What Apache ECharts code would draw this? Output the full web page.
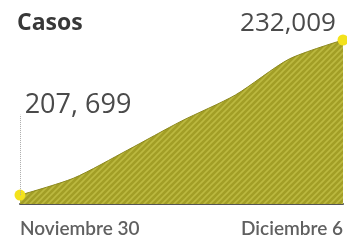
<!DOCTYPE html>
<html>
<head>
<meta charset="utf-8">
<script src="https://cdn.jsdelivr.net/npm/echarts@6/dist/echarts.min.js"></script>
<style>
  html, body { margin: 0; padding: 0; background: #fff; }
  #chart { width: 347px; height: 244px; }
</style>
</head>
<body>
<div id="chart"></div>
<script>
var dias = ['Noviembre 30', 'Diciembre 1', 'Diciembre 2', 'Diciembre 3', 'Diciembre 4', 'Diciembre 5', 'Diciembre 6'];
var casos = [207699, 210365, 214756, 219303, 223383, 229024, 232009];
var etiquetas = ['207, 699', '', '', '', '', '', '232,009'];

// patron de rayas diagonales para el area
function rayas() {
    var c = document.createElement('canvas');
    c.width = 6;
    c.height = 6;
    var ctx = c.getContext('2d');
    ctx.fillStyle = '#a29e26';
    ctx.fillRect(0, 0, 6, 6);
    ctx.strokeStyle = '#bcb940';
    ctx.lineWidth = 1.6;
    ctx.beginPath();
    ctx.moveTo(-1, 7); ctx.lineTo(7, -1);
    ctx.moveTo(-4, 4); ctx.lineTo(4, -4);
    ctx.moveTo(2, 10); ctx.lineTo(10, 2);
    ctx.stroke();
    return c;
}

var chart = echarts.init(document.getElementById('chart'));

var datos = casos.map(function (v, i) {
    var item = { value: v };
    if (i === 0 || i === casos.length - 1) {
        item.symbol = 'circle';
        item.symbolSize = 11;
        item.itemStyle = { color: '#f3e21c', borderWidth: 0 };
    } else {
        item.symbol = 'none';
    }
    if (etiquetas[i]) {
        item.label = {
            show: true,
            formatter: etiquetas[i],
            fontFamily: 'Open Sans',
            fontSize: i === 0 ? 27 : 26,
            color: '#4a4a4a',
            position: 'top',
            offset: i === 0 ? [58, -66] : [-55, 7]
        };
    }
    return item;
});

chart.setOption({
    animation: false,
    title: {
        text: 'Casos',
        left: 12,
        top: 7,
        textStyle: { fontFamily: 'Open Sans', fontWeight: 'bold', fontSize: 23, color: '#383838' }
    },
    grid: { left: 20, right: 4, top: 40, bottom: 40 },
    xAxis: {
        type: 'category',
        data: dias,
        boundaryGap: false,
        axisLine: { lineStyle: { color: '#555', width: 2 } },
        axisTick: { show: false },
        axisLabel: {
            interval: function (i) { return i === 0 || i === dias.length - 1; },
            alignMinLabel: 'left',
            alignMaxLabel: 'right',
            margin: 15,
            fontFamily: 'Lato',
            fontWeight: 600,
            fontSize: 19,
            color: '#606060'
        }
    },
    yAxis: {
        type: 'value',
        min: 206300,
        max: 232009,
        show: false,
        splitLine: { show: false }
    },
    series: [{
        type: 'line',
        data: datos,
        smooth: 0.25,
        lineStyle: { color: '#8c8820', width: 1 },
        areaStyle: { color: { image: rayas(), repeat: 'repeat' }, opacity: 1 },
        markLine: {
            silent: true,
            symbol: 'none',
            label: { show: false },
            lineStyle: { color: '#aaa', type: 'dotted', width: 1 },
            data: [[{ coord: [0, casos[0]] }, { coord: [0, 220300] }]]
        },
        z: 2
    }]
});
</script>
</body>
</html>
